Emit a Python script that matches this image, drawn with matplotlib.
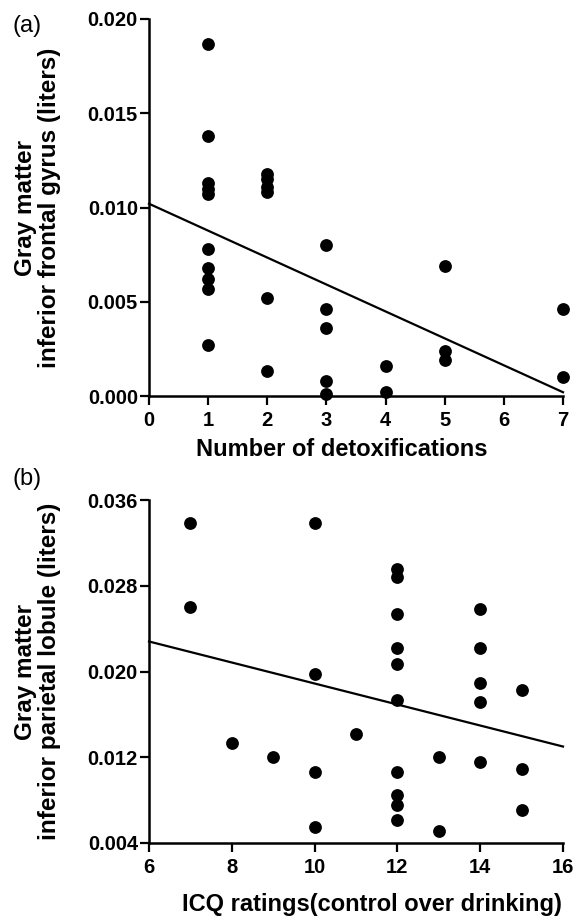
import numpy as np
import matplotlib
matplotlib.use("Agg")
import matplotlib.pyplot as plt

plt.rcParams['font.family'] = ['Liberation Sans', 'DejaVu Sans']

# panel (a): gray matter IFG vs number of detoxifications
detox_x = [1, 1, 1, 1, 1, 1, 1, 1, 1, 1,
           2, 2, 2, 2, 2, 2,
           3, 3, 3, 3, 3,
           4, 4,
           5, 5, 5,
           7, 7]
detox_y = [0.0187, 0.0138, 0.0113, 0.0110, 0.0107, 0.0078, 0.0068, 0.0062, 0.0057, 0.0027,
           0.0118, 0.0115, 0.0111, 0.0108, 0.0052, 0.0013,
           0.0080, 0.0046, 0.0036, 0.0008, 0.0001,
           0.0016, 0.0002,
           0.0069, 0.0024, 0.0019,
           0.0046, 0.0010]
fit_a_x = [0, 7]
fit_a_y = [0.0102, 0.0002]

# panel (b): gray matter IPL vs ICQ rating
icq_x = [7, 7, 8, 9,
         10, 10, 10, 10, 11,
         12, 12, 12, 12, 12, 12, 12, 12, 12, 12,
         13, 13,
         14, 14, 14, 14, 14,
         15, 15, 15]
icq_y = [0.0339, 0.0260, 0.0133, 0.0120,
         0.0339, 0.0198, 0.0106, 0.0055, 0.0142,
         0.0296, 0.0288, 0.0254, 0.0222, 0.0207, 0.0173, 0.0106, 0.0085, 0.0075, 0.0061,
         0.0120, 0.0051,
         0.0258, 0.0222, 0.0189, 0.0172, 0.0116,
         0.0183, 0.0109, 0.0071]
fit_b_x = [6, 16]
fit_b_y = [0.0228, 0.0130]

W, H = 575, 918
fig = plt.figure(figsize=(W / 100, H / 100), dpi=100)

def px_axes(l, t, r, b):
    return fig.add_axes([l / W, 1 - b / H, (r - l) / W, (b - t) / H])

def style(ax):
    for s in ['top', 'right']:
        ax.spines[s].set_visible(False)
    for s in ['left', 'bottom']:
        ax.spines[s].set_linewidth(1.8)
    ax.tick_params(direction='out', length=6.5, width=1.6, labelsize=14.5)
    ax.tick_params(axis='x', pad=4.5)
    ax.tick_params(axis='y', pad=1.5)
    for lab in ax.get_xticklabels() + ax.get_yticklabels():
        lab.set_fontweight('bold')

ax1 = px_axes(149, 19, 563, 396)
ax1.scatter(detox_x, detox_y, s=85, color='black', clip_on=False, zorder=3, linewidths=0)
ax1.plot(fit_a_x, fit_a_y, color='black', lw=1.6, clip_on=False)
ax1.set_xlim(0, 7)
ax1.set_ylim(0, 0.020)
ax1.set_xticks(range(0, 8))
ax1.set_yticks([0.000, 0.005, 0.010, 0.015, 0.020])
ax1.set_yticklabels(['0.000', '0.005', '0.010', '0.015', '0.020'])
style(ax1)
ax1.set_xlabel('Number of detoxifications', fontsize=17, fontweight='bold')
ax1.xaxis.set_label_coords((342 - 149) / 414, -0.112)
ax1.set_ylabel('Gray matter\ninferior frontal gyrus (liters)', fontsize=17.5,
               fontweight='bold', linespacing=1.05)
ax1.yaxis.set_label_coords(-0.213, 0.5)
fig.text(12 / W, 1 - 26 / H, '(a)', fontsize=17, va='center', ha='left')

ax2 = px_axes(149, 500, 563, 843)
ax2.scatter(icq_x, icq_y, s=85, color='black', clip_on=False, zorder=3, linewidths=0)
ax2.plot(fit_b_x, fit_b_y, color='black', lw=1.6, clip_on=False)
ax2.set_xlim(6, 16)
ax2.set_ylim(0.004, 0.036)
ax2.set_xticks(range(6, 17, 2))
ax2.set_yticks([0.004, 0.012, 0.020, 0.028, 0.036])
ax2.set_yticklabels(['0.004', '0.012', '0.020', '0.028', '0.036'])
style(ax2)
ax2.set_xlabel('ICQ ratings(control over drinking)', fontsize=17, fontweight='bold')
ax2.xaxis.set_label_coords((372 - 149) / 414, -0.145)
ax2.set_ylabel('Gray matter\ninferior parietal lobule (liters)', fontsize=17.5,
               fontweight='bold', linespacing=1.05)
ax2.yaxis.set_label_coords(-0.213, 0.5)
fig.text(12 / W, 1 - 479 / H, '(b)', fontsize=17, va='center', ha='left')

fig.savefig('out.png', dpi=100)
